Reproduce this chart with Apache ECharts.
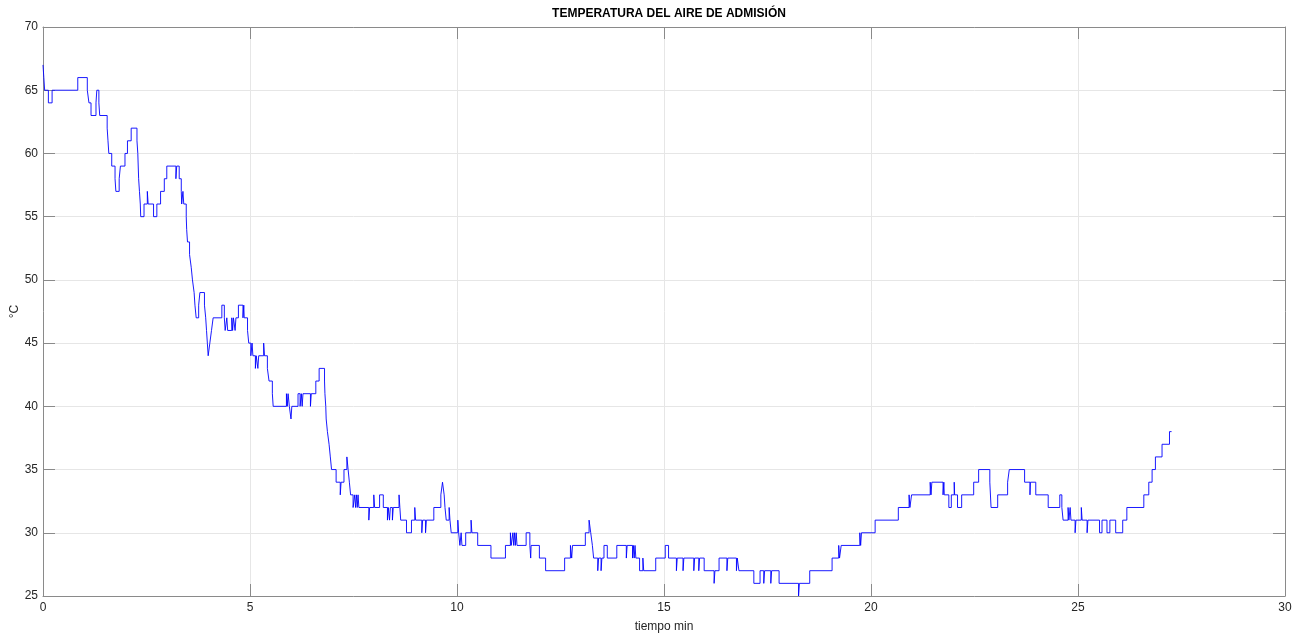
<!DOCTYPE html>
<html>
<head>
<meta charset="utf-8">
<script src="https://cdn.jsdelivr.net/npm/echarts@6/dist/echarts.min.js"></script>
<style>
html,body{margin:0;padding:0;background:#fff;}
#chart{width:1304px;height:634px;}
</style>
</head>
<body>
<div id="chart"></div>
<script>
// Sample times (min) where the reading changes, and the reading (°C) held from that time on
var tiempo = [
 0.00,0.02,0.04,0.13,0.22,0.84,1.07,1.11,1.16,1.28,1.30,1.35,1.37,1.55,1.57,1.59,1.66,1.74,1.76,1.84,
 1.87,1.98,2.04,2.13,2.27,2.29,2.31,2.33,2.35,2.36,2.44,2.52,2.54,2.67,2.75,2.84,2.93,2.99,3.21,3.23,
 3.29,3.34,3.35,3.38,3.40,3.46,3.47,3.49,3.54,3.58,3.61,3.65,3.67,3.70,3.76,3.79,3.90,3.93,3.95,3.97,
 3.99,4.03,4.07,4.11,4.32,4.38,4.40,4.44,4.46,4.56,4.58,4.60,4.64,4.66,4.72,4.83,4.85,4.86,4.94,4.97,
 5.02,5.05,5.07,5.13,5.15,5.19,5.21,5.33,5.35,5.42,5.46,5.54,5.56,5.88,5.90,5.92,5.95,5.99,6.01,6.16,
 6.21,6.24,6.26,6.28,6.46,6.48,6.59,6.67,6.80,6.81,6.83,6.84,6.87,6.91,6.94,6.97,7.08,7.18,7.20,7.27,
 7.34,7.37,7.40,7.43,7.49,7.53,7.55,7.57,7.59,7.61,7.63,7.87,7.89,7.99,8.01,8.13,8.22,8.32,8.34,8.37,
 8.39,8.44,8.46,8.60,8.62,8.64,8.78,8.90,8.98,9.00,9.15,9.17,9.24,9.26,9.44,9.61,9.65,9.69,9.71,9.74,
 9.81,9.83,9.86,10.02,10.04,10.07,10.10,10.12,10.21,10.34,10.36,10.50,10.82,11.17,11.29,11.31,11.35,11.37,11.39,11.41,
 11.43,11.45,11.67,11.76,11.78,11.79,11.99,12.14,12.60,12.74,12.77,12.79,13.10,13.19,13.23,13.27,13.30,13.40,13.42,13.48,
 13.50,13.55,13.63,13.86,14.09,14.11,14.24,14.26,14.28,14.30,14.32,14.41,14.49,14.51,14.80,15.03,15.11,15.30,15.32,15.46,
 15.48,15.72,15.74,15.84,15.86,15.97,16.21,16.23,16.33,16.52,16.54,16.75,16.77,16.81,17.17,17.32,17.41,17.43,17.58,17.60,
 17.78,18.25,18.27,18.52,19.06,19.22,19.24,19.28,19.73,19.75,19.77,20.10,20.66,20.92,20.94,20.98,21.43,21.45,21.47,21.74,
 21.76,21.77,21.88,21.94,22.01,22.02,22.09,22.19,22.48,22.60,22.87,22.90,23.06,23.30,23.34,23.71,23.84,23.85,23.98,24.28,
 24.56,24.61,24.64,24.76,24.78,24.81,24.83,24.93,24.95,25.08,25.10,25.22,25.24,25.52,25.58,25.70,25.77,25.91,26.08,26.18,
 26.59,26.71,26.79,26.87,27.03,27.21,27.26
];
var temperatura = [
 67,66,65,64,65,66,65,64,63,64,65,64,63,62,61,60,59,58,57,58,
 59,60,61,62,61,60,58,57,56,55,56,57,56,55,56,57,58,59,58,59,
 58,57,56,57,56,55,54,53,52,51,50,49,48,47,48,49,48,47,46,45,
 44,45,46,47,48,47,46,47,46,47,46,47,46,47,48,47,48,47,46,45,
 44,45,44,43,44,43,44,45,44,43,42,41,40,41,40,41,40,39,40,41,
 40,41,40,41,40,41,42,43,42,41,40,39,38,37,36,35,34,33,34,35,
 36,35,34,33,32,33,32,33,32,33,32,31,32,33,32,33,32,31,32,31,
 32,31,32,33,32,31,30,31,32,31,30,31,30,31,32,33,34,33,32,31,
 32,31,30,31,30,29,30,29,30,31,30,29,28,29,30,29,30,29,30,29,
 30,29,30,29,28,29,28,27,28,29,28,29,30,31,30,29,28,27,28,27,
 28,29,28,29,28,29,28,29,28,29,28,27,28,27,28,29,28,27,28,27,
 28,27,28,27,28,27,26,27,28,27,28,27,28,27,26,27,26,27,26,27,
 26,25,26,27,28,29,28,29,30,29,30,31,32,33,32,33,34,33,34,33,
 34,33,32,33,34,33,32,33,34,35,34,32,33,34,35,34,33,34,33,32,
 33,32,31,32,31,32,31,30,31,32,31,30,31,30,31,30,31,30,31,32,
 33,34,35,36,37,38,38
];
var xTicks = {min: 0, max: 30, step: 5};
var yTicks = {min: 25, max: 70, step: 5};
var titulo = 'TEMPERATURA DEL AIRE DE ADMISIÓN';
var etiquetaX = 'tiempo min';
var etiquetaY = '°C';

var serie = tiempo.map(function (t, i) { return [t, temperatura[i]]; });

var ink = '#262626';
var axisCol = '#8a8a8a';
var gridCol = '#e6e6e6';
var font = '"Liberation Sans", Arial, Helvetica, sans-serif';

function baseAxis(t, pos, showLab) {
  return {
    type: 'value', position: pos,
    min: t.min, max: t.max, interval: t.step,
    axisLine: {show: true, onZero: false, lineStyle: {color: axisCol, width: 1}},
    axisTick: {show: true, inside: true, length: 12, lineStyle: {color: axisCol, width: 1}},
    axisLabel: {show: showLab, color: ink, fontSize: 12, fontFamily: font, margin: 6},
    splitLine: {show: showLab, lineStyle: {color: gridCol, width: 1}},
    nameMoveOverlap: false
  };
}

var xb = baseAxis(xTicks, 'bottom', true);
xb.name = etiquetaX; xb.nameLocation = 'middle'; xb.nameGap = 25;
xb.nameTextStyle = {color: ink, fontSize: 12, fontFamily: font};
var xt = baseAxis(xTicks, 'top', false);
var yl = baseAxis(yTicks, 'left', true);
yl.axisLabel.margin = 5;
yl.name = etiquetaY; yl.nameLocation = 'middle'; yl.nameGap = 22; yl.nameRotate = 90;
yl.nameTextStyle = {color: ink, fontSize: 12, fontFamily: font};
var yr = baseAxis(yTicks, 'right', false);

var chart = echarts.init(document.getElementById('chart'), null, {renderer: 'canvas'});
chart.setOption({
  animation: false,
  backgroundColor: '#ffffff',
  title: {
    text: titulo, left: 664, top: 3, textAlign: 'center',
    textStyle: {color: '#000', fontSize: 12, fontWeight: 'bold', fontFamily: font}
  },
  grid: {left: 43, right: 19, top: 27, bottom: 38, containLabel: false, outerBoundsMode: 'none'},
  xAxis: [xb, xt],
  yAxis: [yl, yr],
  series: [{
    type: 'line', data: serie, step: 'end',
    xAxisIndex: 0, yAxisIndex: 0,
    showSymbol: false, symbol: 'none',
    lineStyle: {color: '#0000ff', width: 0.9},
    z: 5
  }]
});
</script>
</body>
</html>
